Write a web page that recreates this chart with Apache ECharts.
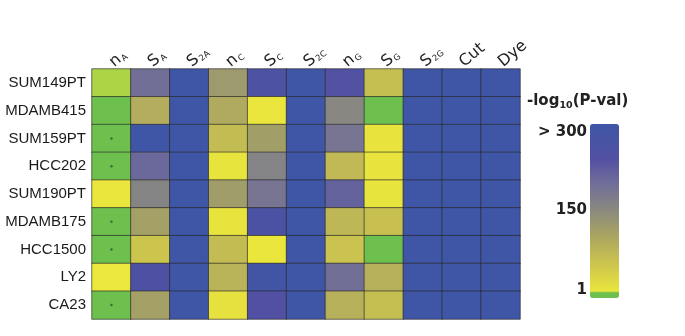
<!DOCTYPE html>
<html><head><meta charset="utf-8">
<script src="https://cdn.jsdelivr.net/npm/echarts@6/dist/echarts.min.js"></script>
<style>html,body{margin:0;padding:0;background:#fff}#c{width:685px;height:336px}</style>
</head><body><div id="c"></div>
<script>
// Columns: [main letter, subscript]
const columns = [['n','A'],['S','A'],['S','2A'],['n','C'],['S','C'],['S','2C'],['n','G'],['S','G'],['S','2G'],['Cut',''],['Dye','']];
const rows = ['SUM149PT','MDAMB415','SUM159PT','HCC202','SUM190PT','MDAMB175','HCC1500','LY2','CA23'];
// -log10(P-val) on the colour scale (0-10 = not significant / green, 300 = >300)
const SUM149PT = [9.5,195,300,125,255,300,238,68,300,300,300];
const MDAMB415 = [0,95,300,100,12,300,155,0,300,300,300];
const SUM159PT = [0,300,300,72,118,300,185,14,300,300,300];
const HCC202   = [0,205,300,15,162,300,76,14,300,300,300];
const SUM190PT = [12,160,300,120,185,300,215,15,300,300,300];
const MDAMB175 = [0,115,300,14,262,300,80,66,300,300,300];
const HCC1500  = [0,58,300,72,11,300,62,0,300,300,300];
const LY2      = [10,252,300,86,290,300,195,90,300,300,300];
const CA23     = [0,115,300,18,240,300,90,68,300,300,300];
const matrix = [SUM149PT,MDAMB415,SUM159PT,HCC202,SUM190PT,MDAMB175,HCC1500,LY2,CA23];
// cells marked with a dot: [column, row]
const dotCells = [[0,2],[0,3],[0,5],[0,6],[0,8]];
const legendTicks = ['> 300','150','1'];

const data = [];
matrix.forEach((r,ri)=>r.forEach((v,ci)=>data.push([ci,ri,v])));

// colour scale stops
const stops = [[0,'#6dbf4e'],[9,'#6fc04d'],[10,'#ebe73c'],[60,'#cbc44e'],[110,'#a8a363'],[150,'#8b8a7e'],[200,'#6f6c9a'],[240,'#5250a2'],[300,'#3f56a6']];
function hex(c){return [1,3,5].map(i=>parseInt(c.substr(i,2),16));}
function colorAt(v){
  for(let i=1;i<stops.length;i++){
    if(v<=stops[i][0]){
      const a=stops[i-1],b=stops[i];const t=(v-a[0])/(b[0]-a[0]);
      const ca=hex(a[1]),cb=hex(b[1]);
      return 'rgb('+ca.map((x,k)=>Math.round(x+(cb[k]-x)*t)).join(',')+')';
    }
  }
  return stops[stops.length-1][1];
}
const palette=[];for(let v=0;v<=300;v++)palette.push(colorAt(v));

const chart = echarts.init(document.getElementById('c'));
chart.setOption({
  animation:false,
  backgroundColor:'#fff',
  grid:{left:92,right:165,top:69,bottom:17},
  xAxis:{type:'category',position:'top',data:columns.map((c,i)=>i),
    axisLine:{show:false},axisTick:{show:false},splitLine:{show:false},
    axisLabel:{interval:0,rotate:-40,margin:5,
      formatter:(v)=>{const c=columns[v];return c[1]?'{m|'+c[0]+'}{s|'+c[1]+'}':'{m|'+c[0]+'}';},
      rich:{m:{fontFamily:'DejaVu Sans',fontSize:16,color:'#222',lineHeight:19},
            s:{fontFamily:'DejaVu Sans',fontSize:8.5,color:'#222',lineHeight:19,verticalAlign:'bottom',padding:[0,0,1,1]}}}},
  yAxis:{type:'category',inverse:true,data:rows,
    axisLine:{show:false},axisTick:{show:false},
    axisLabel:{fontFamily:'Liberation Sans',fontSize:15,color:'#1a1a1a',margin:6}},
  visualMap:{type:'continuous',min:0,max:300,calculable:false,seriesIndex:0,
    left:590,top:124,itemWidth:29,itemHeight:174,padding:0,text:['',''],showLabel:false,
    inRange:{color:palette}},
  graphic:[
    {type:'text',left:527,top:94,style:{text:'{a|-log}{b|10}{a|(P-val)}',
      rich:{a:{fontFamily:'DejaVu Sans',fontSize:15,fontWeight:'bold',fill:'#222',lineHeight:19},
            b:{fontFamily:'DejaVu Sans',fontSize:9.5,fontWeight:'bold',fill:'#222',lineHeight:19,verticalAlign:'bottom'}}}},
    {type:'text',right:98,top:125,style:{text:legendTicks[0],fontFamily:'DejaVu Sans',fontSize:15,fontWeight:'bold',fill:'#222',textAlign:'right'}},
    {type:'text',right:98,top:203,style:{text:legendTicks[1],fontFamily:'DejaVu Sans',fontSize:15,fontWeight:'bold',fill:'#222',textAlign:'right'}},
    {type:'text',right:98,top:283,style:{text:legendTicks[2],fontFamily:'DejaVu Sans',fontSize:15,fontWeight:'bold',fill:'#222',textAlign:'right'}}
  ],
  series:[
    {type:'heatmap',data:data,itemStyle:{borderColor:'rgba(40,40,40,0.65)',borderWidth:1},emphasis:{disabled:true}},
    {type:'scatter',data:dotCells,symbol:'circle',symbolSize:2.5,itemStyle:{color:'#2f5a2a'},silent:true,z:5}
  ]
});
</script></body></html>
